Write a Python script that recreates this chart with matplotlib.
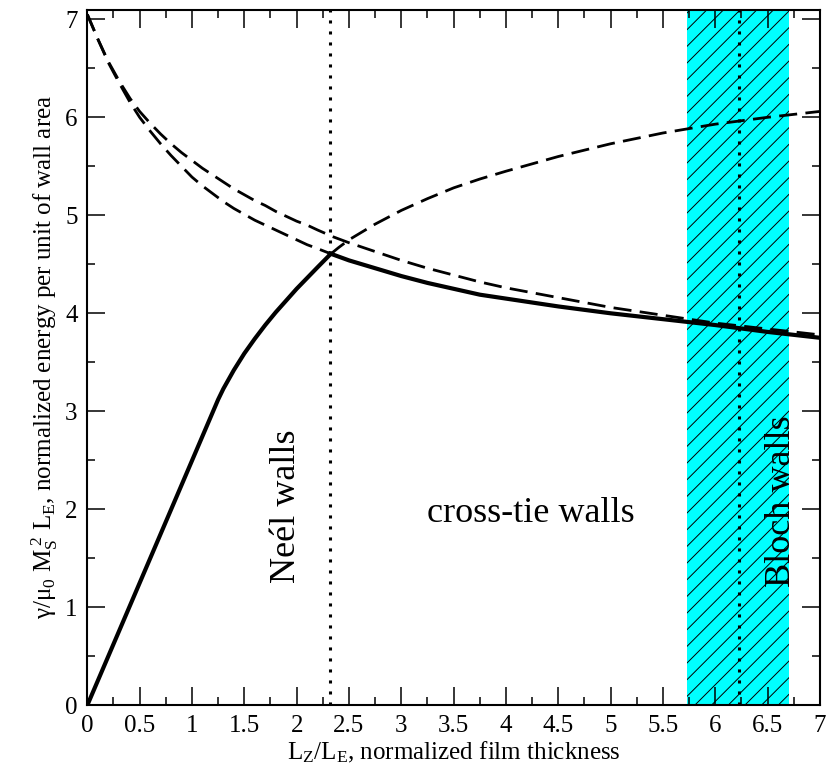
import matplotlib
matplotlib.use("Agg")
import matplotlib.pyplot as plt
import numpy as np

plt.rcParams['font.family'] = ['Liberation Serif', 'DejaVu Serif']
plt.rcParams['mathtext.fontset'] = 'custom'
plt.rcParams['mathtext.rm'] = 'Liberation Serif'
plt.rcParams['mathtext.it'] = 'Liberation Serif:italic'
plt.rcParams['hatch.linewidth'] = 0.7

# Bloch wall energy (dashed, whole range)
bloch_x = [0, 0.1, 0.2, 0.31, 0.41, 0.5, 0.6, 0.7, 0.8, 0.9, 1.0, 1.1, 1.2, 1.3,
           1.4, 1.5, 1.6, 1.7, 1.8, 1.9, 2.0, 2.1, 2.2, 2.35, 2.5, 2.75, 3.0, 3.25,
           3.5, 3.75, 4.0, 4.5, 5.0, 5.5, 6.0, 6.5, 7.0]
bloch_y = [7.05, 6.80, 6.57, 6.36, 6.19, 6.06, 5.94, 5.83, 5.73, 5.64, 5.56, 5.48,
           5.41, 5.34, 5.27, 5.21, 5.15, 5.10, 5.04, 4.99, 4.94, 4.90, 4.85, 4.78,
           4.72, 4.63, 4.54, 4.46, 4.39, 4.32, 4.26, 4.16, 4.06, 3.98, 3.90, 3.84, 3.78]

# cross-tie wall energy (dashed below the crossing, solid above)
cross_x = [0, 0.1, 0.2, 0.31, 0.41, 0.5, 0.6, 0.7, 0.8, 0.9, 1.0, 1.1, 1.2, 1.3,
           1.4, 1.5, 1.6, 1.7, 1.8, 1.9, 2.0, 2.1, 2.2, 2.32, 2.5, 2.75, 3.0, 3.25,
           3.5, 3.75, 4.0, 4.5, 5.0, 5.5, 6.0, 6.5, 7.0]
cross_y = [7.05, 6.80, 6.56, 6.34, 6.15, 6.00, 5.86, 5.73, 5.61, 5.50, 5.39, 5.30,
           5.22, 5.14, 5.07, 5.01, 4.95, 4.90, 4.85, 4.80, 4.75, 4.70, 4.66, 4.61,
           4.54, 4.46, 4.38, 4.31, 4.25, 4.19, 4.15, 4.07, 4.00, 3.94, 3.88, 3.81, 3.75]

# Neel wall energy (solid below the crossing, dashed above)
neel_x = [0, 1.25, 1.3, 1.4, 1.5, 1.6, 1.7, 1.8, 1.9, 2.0, 2.1, 2.2, 2.32,
          2.4, 2.5, 2.75, 3.0, 3.25, 3.5, 3.75, 4.0, 4.5, 5.0, 5.5, 6.0, 6.5, 7.0]
neel_y = [0, 3.12, 3.23, 3.42, 3.59, 3.74, 3.88, 4.01, 4.13, 4.25, 4.36, 4.47, 4.60,
          4.67, 4.75, 4.91, 5.05, 5.17, 5.28, 5.37, 5.45, 5.60, 5.73, 5.84, 5.93,
          6.00, 6.06]

x_cross = 2.32          # Neel / cross-tie transition
x_bloch = 6.23          # cross-tie / Bloch transition
band = (5.73, 6.70)     # uncertainty band around Bloch transition

xticks = [0, 0.5, 1, 1.5, 2, 2.5, 3, 3.5, 4, 4.5, 5, 5.5, 6, 6.5, 7]
xticklabels = ['0', '0.5', '1', '1.5', '2', '2.5', '3', '3.5', '4', '4.5',
               '5', '5.5', '6', '6.5', '7']
yticks = [0, 1, 2, 3, 4, 5, 6, 7]

fig = plt.figure(figsize=(8.33, 7.73), dpi=100)
ax = fig.add_axes([87.3/833, 1-705.3/773, (820-87.3)/833, (705.3-9.5)/773])

ax.axvspan(band[0], band[1], facecolor='#00ffff', edgecolor='black', hatch='//',
           linewidth=0, zorder=0)

dash = (0, (6.5, 3.0))
cx = np.array(cross_x); cy = np.array(cross_y)
nx = np.array(neel_x); ny = np.array(neel_y)

ax.plot(bloch_x, bloch_y, color='black', lw=2.0, linestyle=dash, zorder=3)
ax.plot(cx[cx <= x_cross], cy[cx <= x_cross], color='black', lw=2.0, linestyle=dash, zorder=3)
ax.plot(cx[cx >= x_cross], cy[cx >= x_cross], color='black', lw=3, zorder=4)
ax.plot(nx[nx <= x_cross], ny[nx <= x_cross], color='black', lw=3, zorder=4)
ax.plot(nx[nx >= x_cross], ny[nx >= x_cross], color='black', lw=2.0, linestyle=dash, zorder=3)

# phase boundaries
ax.axvline(x_cross, color='black', lw=2.2, linestyle=(0, (1, 2.6)), zorder=2)
ax.axvline(x_bloch, color='black', lw=2.2, linestyle=(0, (1, 2.6)), zorder=2)

ax.text(1.90, 2.03, 'Neél walls', rotation=90, fontsize=26, ha='center', va='center')
ax.text(4.24, 1.87, 'cross-tie walls', fontsize=26, ha='center', va='baseline')
ax.text(6.63, 2.08, 'Bloch walls', rotation=90, fontsize=26, ha='center', va='center')

ax.set_xlim(0, 7)
ax.set_ylim(0, 7.1)
ax.set_xticks(xticks)
ax.set_xticklabels(xticklabels)
ax.set_xticks(np.arange(0, 7.01, 0.25), minor=True)
ax.set_yticks(yticks)
ax.set_yticks(np.arange(0, 7.01, 0.5), minor=True)
ax.tick_params(which='both', direction='in', top=True, right=True, labelsize=18, width=1.1)
ax.tick_params(which='major', length=13, pad=7)
ax.tick_params(which='minor', length=6)
for s in ax.spines.values():
    s.set_linewidth(1.5)

ax.set_xlabel(r'$\mathrm{L_Z/L_E}$, normalized film thickness', fontsize=18, labelpad=2)
ax.set_ylabel(r'$\mathrm{γ/μ_0\ M_S^{\ 2}\ L_E}$, normalized energy per unit of wall area',
              fontsize=18, labelpad=4)

fig.savefig('out.png', dpi=100)
